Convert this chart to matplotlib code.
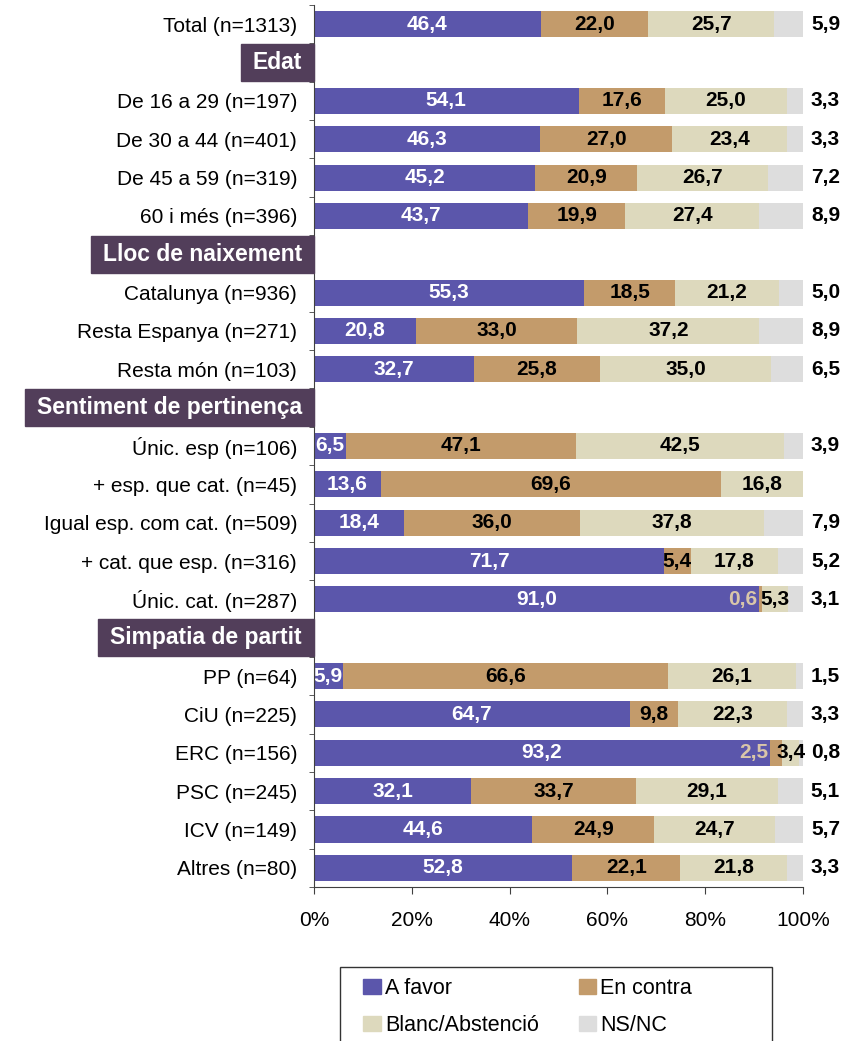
import numpy as np
import matplotlib
matplotlib.use('Agg')
import matplotlib.pyplot as plt
import matplotlib.transforms as mtransforms
from matplotlib.patches import Patch, Rectangle

plt.rcParams['font.family'] = ['Liberation Sans', 'DejaVu Sans']

# Dades (files de capçalera sense valors)
labels = ['Total (n=1313)', 'Edat', 'De 16 a 29 (n=197)', 'De 30 a 44 (n=401)',
          'De 45 a 59 (n=319)', '60 i més (n=396)', 'Lloc de naixement',
          'Catalunya (n=936)', 'Resta Espanya (n=271)', 'Resta món (n=103)',
          'Sentiment de pertinença', 'Únic. esp (n=106)', '+ esp. que cat. (n=45)',
          'Igual esp. com cat. (n=509)', '+ cat. que esp. (n=316)', 'Únic. cat. (n=287)',
          'Simpatia de partit', 'PP (n=64)', 'CiU (n=225)', 'ERC (n=156)',
          'PSC (n=245)', 'ICV (n=149)', 'Altres (n=80)']
headers = ['Edat', 'Lloc de naixement', 'Sentiment de pertinença', 'Simpatia de partit']
nan = np.nan
a_favor = np.array([46.4, nan, 54.1, 46.3, 45.2, 43.7, nan, 55.3, 20.8, 32.7, nan,
                    6.5, 13.6, 18.4, 71.7, 91.0, nan, 5.9, 64.7, 93.2, 32.1, 44.6, 52.8])
en_contra = np.array([22.0, nan, 17.6, 27.0, 20.9, 19.9, nan, 18.5, 33.0, 25.8, nan,
                      47.1, 69.6, 36.0, 5.4, 0.6, nan, 66.6, 9.8, 2.5, 33.7, 24.9, 22.1])
blanc = np.array([25.7, nan, 25.0, 23.4, 26.7, 27.4, nan, 21.2, 37.2, 35.0, nan,
                  42.5, 16.8, 37.8, 17.8, 5.3, nan, 26.1, 22.3, 3.4, 29.1, 24.7, 21.8])
nsnc = np.array([5.9, nan, 3.3, 3.3, 7.2, 8.9, nan, 5.0, 8.9, 6.5, nan,
                 3.9, 0.0, 7.9, 5.2, 3.1, nan, 1.5, 3.3, 0.8, 5.1, 5.7, 3.3])

series = ['A favor', 'En contra', 'Blanc/Abstenció', 'NS/NC']
colors = ['#5B56AB', '#C39B6B', '#DDD9BD', '#DDDDDD']
header_color = '#523E5A'

def fmt(v):
    return f'{v:.1f}'.replace('.', ',')

fig = plt.figure(figsize=(8.59, 10.41), dpi=100)
ax = fig.add_axes([314/859, 1-887/1041, 489/859, 882/1041])

y = np.arange(len(labels))
data = np.vstack([a_favor, en_contra, blanc, nsnc])
rows = ~np.isnan(a_favor)
pct = data[:, rows] / data[:, rows].sum(axis=0) * 100
yy = y[rows]

left = np.zeros(rows.sum())
for k in range(4):
    ax.barh(yy, pct[k], left=left, height=0.68, color=colors[k], zorder=2)
    for yi, l, w, v in zip(yy, left, pct[k], data[k, rows]):
        if v == 0:
            continue
        if k == 0:
            ax.text(l + w/2, yi, fmt(v), ha='center', va='center',
                    color='white', fontsize=15, fontweight='bold', zorder=3)
        elif k == 3:
            ax.text(104.6, yi, fmt(v), ha='center', va='center',
                    color='black', fontsize=15, fontweight='bold', clip_on=False)
        elif k == 1 and v < 3:
            ax.text(l - 0.3, yi, fmt(v), ha='right', va='center',
                    color='#D9C6A9', fontsize=15, fontweight='bold', zorder=3)
        else:
            ax.text(l + w/2, yi, fmt(v), ha='center', va='center',
                    color='black', fontsize=15, fontweight='bold', zorder=3)
    left = left + pct[k]

ax.set_xlim(0, 100)
ax.set_ylim(len(labels) - 0.5, -0.5)
ax.set_xticks(np.arange(0, 101, 20))
ax.set_xticklabels([f'{t}%' for t in range(0, 101, 20)], fontsize=15)
ax.set_yticks(y)
ax.set_yticklabels(['' if s in headers else s for s in labels], fontsize=15)
ax.set_yticks(np.arange(-0.5, len(labels), 1), minor=True)
ax.tick_params(axis='y', which='major', length=0, pad=12.2)
ax.tick_params(axis='y', which='minor', length=3.6, direction='out', color='#404040')
ax.tick_params(axis='x', length=5, direction='out', pad=12, color='#404040')
for s in ['top', 'right']:
    ax.spines[s].set_visible(False)
for s in ['left', 'bottom']:
    ax.spines[s].set_color('#404040')
    ax.spines[s].set_zorder(4)

# Capçaleres de grup
trans = mtransforms.blended_transform_factory(ax.transAxes, ax.transData)
htexts = []
for h in headers:
    yi = labels.index(h)
    t = ax.text(-12/489, yi, h, ha='right', va='center', color='white',
                fontsize=16.5, fontweight='bold', transform=trans,
                clip_on=False, zorder=6)
    htexts.append((t, yi))
fig.canvas.draw()
r = fig.canvas.get_renderer()
for t, yi in htexts:
    bb = t.get_window_extent(r)
    x0 = ax.transAxes.inverted().transform((bb.x0 - 12, 0))[0]
    ax.add_patch(Rectangle((x0, yi - 0.48), -x0, 0.96, transform=trans,
                           color=header_color, clip_on=False, zorder=5))

# Llegenda (ordre per files)
fig.patches.append(Rectangle((340/859, -0.01), 432/859, 0.01 + 1 - 967/1041,
                             transform=fig.transFigure, fill=False,
                             edgecolor='#333333', linewidth=1))
order = [0, 2, 1, 3]
handles = [Patch(color=colors[i]) for i in order]
fig.legend(handles, [series[i] for i in order], loc='upper left', ncol=2,
           bbox_to_anchor=(344/859, 1 - 959/1041), frameon=False, fontsize=15.5,
           handlelength=0.8, handleheight=0.7, handletextpad=0.2,
           columnspacing=1.85, labelspacing=0.72)

fig.savefig('out.png', dpi=100)
